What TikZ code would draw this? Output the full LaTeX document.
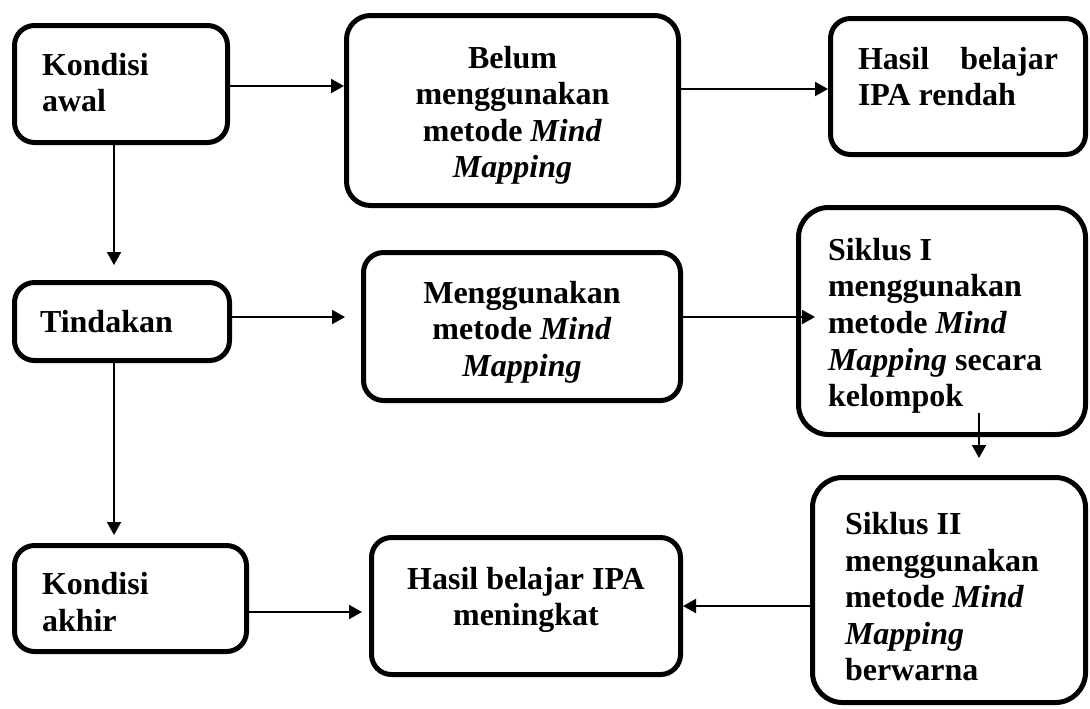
\documentclass[tikz,border=0pt]{standalone}
\usepackage{fontspec}
\setmainfont{Liberation Serif}
\usetikzlibrary{shapes,arrows.meta}

\begin{document}
\begin{tikzpicture}[x=0.5pt, y=-0.5pt, auto]
	\tikzstyle{block} = [rectangle, draw, line width=2.5pt, rounded corners=10pt,
	inner sep=0pt, align=flush left, font=\bfseries\fontsize{16}{18.3}\selectfont]
	\tikzstyle{line} = [draw, -{Triangle[length=6.5pt, width=7pt]}, line width=1pt]
	\useasboundingbox (0,0) rectangle (1090,708);
	% Place nodes
	\node [block, minimum width=106.5pt, minimum height=58.5pt, text width=79pt, text depth=19.8pt] (awal) at (121,84) {Kondisi\\awal};
	\node [block, minimum width=166pt, minimum height=95pt, text width=150pt, align=flush center, rounded corners=12pt, text height=15.8pt] (belum) at (512.5,110.5) {Belum\\menggunakan\\metode \textit{Mind}\\\textit{Mapping}};
	\node [block, minimum width=127.5pt, minimum height=68pt, text width=100pt, text depth=28.3pt] (rendah) at (958,86.5) {Hasil\hfill belajar\\IPA rendah};
	\node [block, minimum width=107.5pt, minimum height=39pt, text width=82pt] (tindakan) at (122,321.5) {Tindakan};
	\node [block, minimum width=158.5pt, minimum height=74pt, text width=150pt, align=flush center, text height=16.8pt] (mm) at (522,326.5) {Menggunakan\\metode \textit{Mind}\\\textit{Mapping}};
	\node [block, minimum width=143.5pt, minimum height=113.5pt, text width=114pt, rounded corners=15pt, text height=15.8pt] (siklus1) at (942,321) {Siklus I\\menggunakan\\metode \textit{Mind}\\\textit{Mapping} secara\\kelompok};
	\node [block, minimum width=116pt, minimum height=53pt, text width=88.5pt, text height=14.8pt] (akhir) at (130.5,598.5) {Kondisi\\akhir};
	\node [block, minimum width=154.5pt, minimum height=68.5pt, text width=150pt, align=flush center, text depth=27.8pt] (meningkat) at (526,606) {Hasil belajar IPA\\meningkat};
	\node [block, minimum width=136.5pt, minimum height=112.5pt, text width=104pt, rounded corners=15pt, text height=17.8pt] (siklus2) at (949,590) {Siklus II\\menggunakan\\metode \textit{Mind}\\\textit{Mapping}\\berwarna};
	% Draw edges
	\path [line] ([yshift=-1pt]awal.east) -- ([yshift=-1pt]awal.east -| belum.west);
	\path [line] ([yshift=-1.25pt]rendah.west -| belum.east) -- ([yshift=-1.25pt]rendah.west);
	\path [line, shorten >=7.5pt] ([xshift=-3.5pt]awal.south) -- ([xshift=-3.5pt]awal.south |- tindakan.north);
	\path [line, shorten >=8pt] ([yshift=2.25pt]tindakan.east) -- ([yshift=2.25pt]tindakan.east -| mm.west);
	\path [line, shorten >=-9.5pt] ([yshift=4.75pt]mm.east) -- ([yshift=4.75pt]mm.east -| siklus1.west);
	\path [line, shorten >=4pt] ([xshift=-4pt]tindakan.south) -- ([xshift=-4pt]tindakan.south |- akhir.north);
	\path [line, shorten >=8.5pt] ([xshift=18.5pt, yshift=12pt]siklus1.south) -- ([xshift=18.5pt]siklus1.south |- siklus2.north);
	\path [line] (meningkat.east -| siklus2.west) -- (meningkat.east);
	\path [line, shorten >=3.5pt] ([yshift=-6.75pt]akhir.east) -- ([yshift=-6.75pt]akhir.east -| meningkat.west);
\end{tikzpicture}
\end{document}
